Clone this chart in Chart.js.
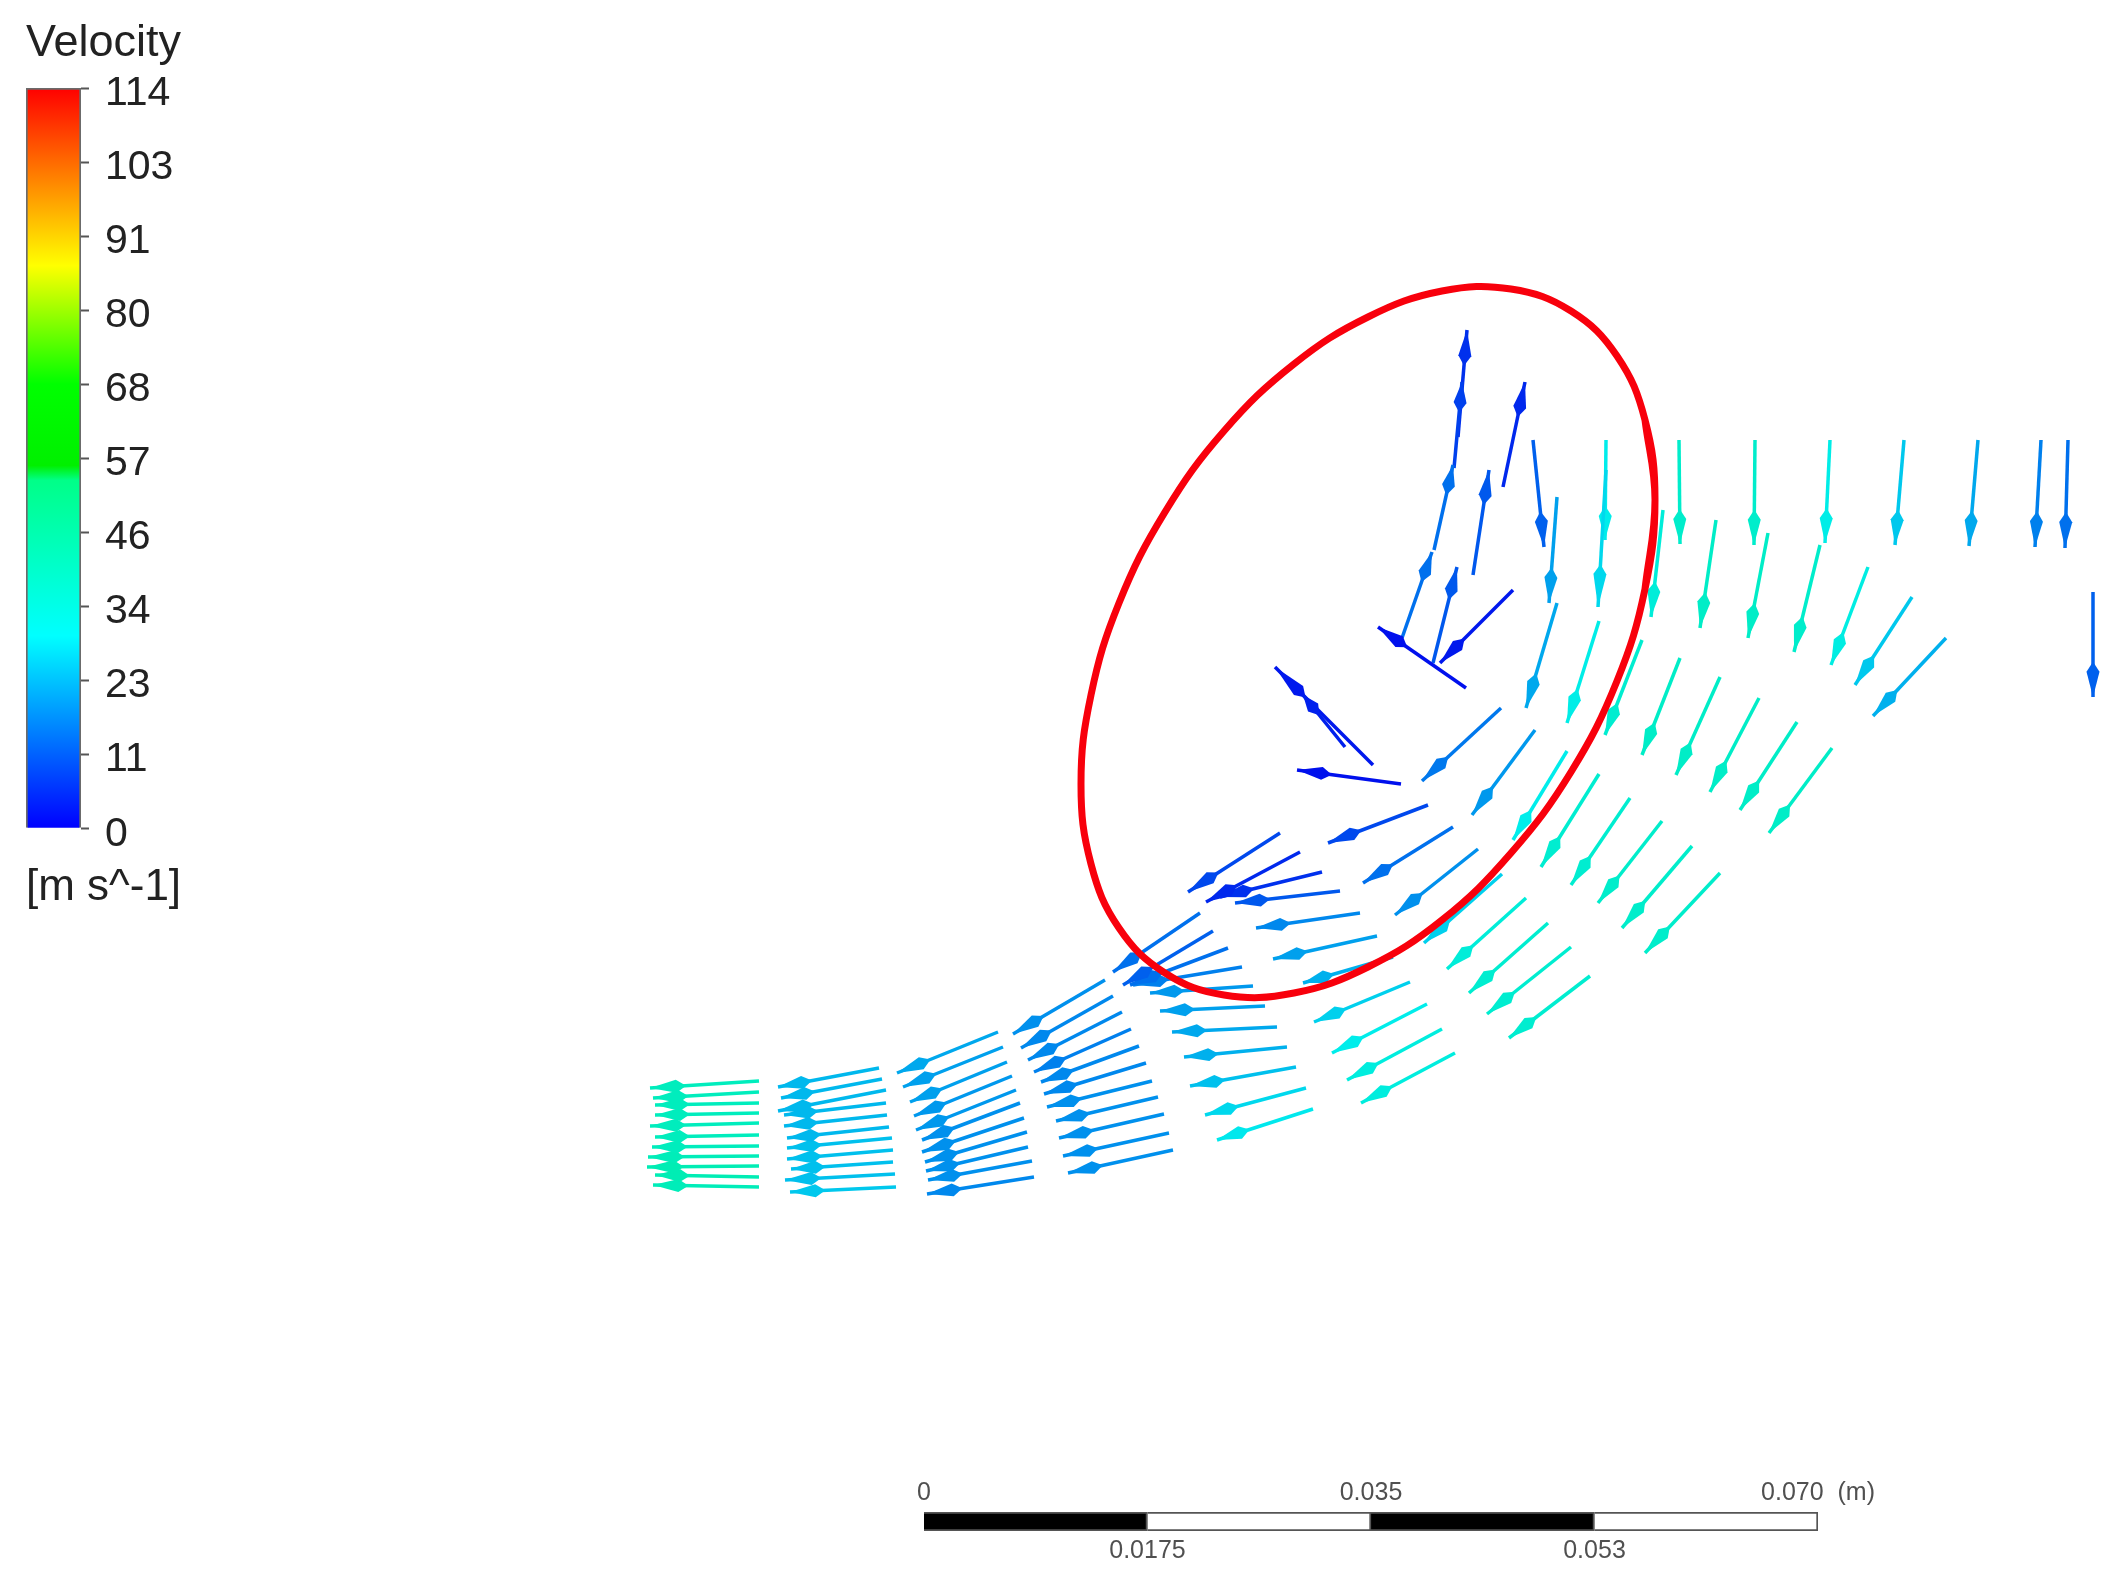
<!DOCTYPE html>
<html>
<head>
<meta charset="utf-8">
<title>Velocity vectors</title>
<script src="https://cdn.jsdelivr.net/npm/chart.js@4/dist/chart.umd.js"></script>
<style>
  html, body { margin: 0; padding: 0; background: #ffffff; }
  body { position: relative; width: 2122px; height: 1578px; overflow: hidden; }
  canvas { position: absolute; filter: blur(0.7px); }
  #vectorChart { left: 0; top: 0; }
  #legendChart { left: 0; top: 0; }
  #scaleChart { left: 824px; top: 1470px; }
</style>
</head>
<body>
<canvas id="vectorChart" width="2122" height="1578"></canvas>
<canvas id="legendChart" width="260" height="924"></canvas>
<canvas id="scaleChart" width="1100" height="108"></canvas>
<script>
// arrows are [tailX, tailY, tipX, tipY, speed]
const station1 = [
  [759, 1081, 650, 1088, 40], [759, 1092, 653, 1098, 40], [759, 1103, 655, 1105, 40], [759, 1113, 655, 1115, 40],
  [759, 1123, 650, 1126, 40], [759, 1135, 655, 1137, 40], [759, 1146, 652, 1147, 40], [759, 1156, 648, 1157, 41],
  [759, 1166, 647, 1167, 42], [759, 1177, 655, 1175, 42], [759, 1187, 653, 1185, 41]
];
const station2 = [
  [879, 1068, 778, 1087, 23], [882, 1079, 781, 1098, 23], [886, 1090, 778, 1111, 23], [886, 1103, 784, 1115, 23],
  [887, 1115, 784, 1126, 23], [889, 1127, 787, 1138, 23], [892, 1138, 787, 1148, 24], [893, 1150, 787, 1159, 24],
  [893, 1162, 791, 1169, 24], [895, 1174, 785, 1180, 24], [896, 1187, 790, 1192, 25]
];
const station3 = [
  [998, 1032, 897, 1073, 21], [1003, 1047, 903, 1087, 20], [1007, 1062, 910, 1102, 20], [1012, 1076, 914, 1116, 19],
  [1016, 1090, 916, 1130, 19], [1020, 1103, 922, 1140, 18], [1024, 1118, 922, 1152, 18], [1027, 1132, 925, 1162, 18],
  [1028, 1147, 926, 1171, 18], [1032, 1161, 928, 1180, 18], [1034, 1177, 927, 1194, 17]
];
const station4 = [
  [1105, 980, 1013, 1034, 18], [1113, 996, 1021, 1048, 17], [1122, 1012, 1028, 1060, 17], [1131, 1029, 1034, 1072, 16],
  [1139, 1046, 1041, 1082, 17], [1146, 1063, 1044, 1094, 17], [1152, 1081, 1047, 1107, 18], [1158, 1097, 1056, 1121, 18],
  [1164, 1114, 1059, 1138, 18], [1169, 1133, 1063, 1156, 18], [1173, 1150, 1068, 1173, 18]
];
const station5 = [
  [1200, 913, 1113, 972, 14], [1213, 931, 1123, 985, 12], [1228, 948, 1130, 985, 14], [1242, 967, 1133, 985, 16],
  [1253, 986, 1150, 993, 19], [1265, 1006, 1160, 1011, 20], [1277, 1027, 1172, 1032, 21], [1287, 1047, 1184, 1057, 22],
  [1296, 1067, 1190, 1086, 24], [1306, 1088, 1205, 1115, 27], [1313, 1109, 1217, 1140, 29]
];
const station6 = [
  [1280, 833, 1188, 892, 9], [1300, 852, 1206, 902, 5], [1322, 872, 1220, 897, 6], [1340, 891, 1235, 903, 11],
  [1360, 913, 1256, 928, 17], [1377, 936, 1273, 959, 20], [1393, 957, 1303, 983, 22], [1410, 982, 1314, 1022, 26],
  [1427, 1004, 1332, 1053, 30], [1442, 1029, 1347, 1080, 33], [1455, 1053, 1361, 1103, 33]
];
const station7 = [
  [1345, 747, 1303, 695, 4], [1373, 765, 1275, 667, 3], [1401, 784, 1297, 770, 2], [1428, 805, 1328, 843, 9],
  [1453, 827, 1363, 883, 14], [1478, 849, 1395, 915, 18], [1502, 874, 1424, 943, 26], [1526, 898, 1447, 969, 34],
  [1548, 923, 1469, 993, 36], [1571, 947, 1487, 1014, 36], [1590, 976, 1509, 1038, 36]
];
const station8 = [
  [1466, 688, 1378, 627, 2], [1513, 590, 1440, 663, 3], [1501, 708, 1422, 781, 15], [1535, 730, 1472, 815, 19],
  [1567, 751, 1513, 840, 30], [1599, 774, 1541, 867, 36], [1630, 798, 1571, 885, 36], [1662, 821, 1598, 903, 37],
  [1692, 846, 1622, 928, 37], [1720, 873, 1645, 953, 37]
];
const station9 = [
  [1557, 603, 1526, 708, 21], [1599, 621, 1567, 723, 31], [1642, 640, 1605, 735, 36], [1680, 658, 1642, 755, 38],
  [1720, 677, 1676, 775, 38], [1759, 698, 1710, 792, 38], [1797, 722, 1740, 810, 38], [1832, 748, 1769, 833, 38]
];
const station10 = [
  [1557, 497, 1549, 603, 20], [1606, 470, 1598, 607, 27], [1663, 510, 1651, 617, 34], [1716, 520, 1700, 628, 38],
  [1768, 533, 1748, 638, 38], [1820, 545, 1794, 652, 37], [1868, 567, 1831, 665, 32], [1912, 597, 1855, 685, 25],
  [1946, 638, 1873, 716, 22], [2093, 592, 2093, 697, 12]
];
const topRow = [
  [1606, 440, 1605, 540, 30], [1679, 440, 1680, 544, 37], [1755, 440, 1754, 545, 37], [1830, 440, 1825, 543, 31],
  [1904, 440, 1895, 545, 25], [1978, 440, 1969, 546, 21], [2041, 440, 2035, 547, 16], [2068, 440, 2065, 548, 14]
];
const recirculation = [
  [1402, 638, 1432, 552, 14], [1434, 550, 1453, 465, 14], [1454, 468, 1462, 382, 8], [1458, 437, 1467, 330, 6],
  [1433, 663, 1457, 567, 11], [1473, 575, 1489, 470, 11], [1503, 487, 1525, 382, 5], [1533, 440, 1544, 547, 12]
];

// red outline; both ends run past the join so it closes without a corner
const ringX = [1645, 1655, 1645, 1617, 1571, 1511, 1442, 1368, 1294, 1224, 1165, 1119, 1091, 1081, 1091, 1119, 1165, 1224, 1294, 1368, 1442, 1511, 1571, 1617, 1645, 1655, 1645];
const ringY = [589, 500, 420, 356, 311, 289, 291, 317, 364, 431, 512, 603, 695, 784, 864, 928, 973, 995, 993, 967, 920, 853, 772, 681, 589, 500, 420];

const velocityTicks = [0, 11.4, 22.8, 34.2, 45.6, 57, 68.4, 79.8, 91.2, 102.6, 114];
const scaleSegments = [0.0175, 0.0175, 0.0175, 0.0175];
const scaleTopTicks = [0, 0.035, 0.07];
const scaleTopLabels = ["0", "0.035", "0.070  (m)"];
const scaleBottomTicks = [0.0175, 0.0525];
const scaleBottomLabels = ["0.0175", "0.053"];

const rainbowStops = [
  [0, [0, 0, 255]],
  [0.26, [0, 255, 255]],
  [0.47, [0, 255, 136]],
  [0.49, [0, 240, 0]],
  [0.6, [0, 255, 0]],
  [0.76, [255, 255, 0]],
  [1, [255, 0, 0]]
];
const maxSpeed = 114;

Chart.defaults.font.family = "'Liberation Sans', Arial, sans-serif";
Chart.defaults.animation = false;
Chart.defaults.responsive = false;
Chart.defaults.plugins.legend.display = false;
Chart.defaults.plugins.tooltip.enabled = false;

const speedColor = (speed) => {
  const t = speed / maxSpeed;
  for (let i = 1; i < rainbowStops.length; i++) {
    const [t0, c0] = rainbowStops[i - 1];
    const [t1, c1] = rainbowStops[i];
    if (t <= t1) {
      const f = (t - t0) / (t1 - t0);
      const mix = c0.map((c, k) => Math.round((c + (c1[k] - c) * f) * 0.93));
      return `rgb(${mix.join(",")})`;
    }
  }
  return "rgb(255,0,0)";
};

const arrowHeadPlugin = {
  id: "arrowHeadPlugin",
  afterDatasetDraw(chart, args) {
    const dataset = chart.data.datasets[args.index];
    if (!dataset.isArrow) {
      return;
    }
    const { ctx, scales } = chart;
    const [tail, tip] = dataset.data;
    const x0 = scales.x.getPixelForValue(tail.x);
    const y0 = scales.y.getPixelForValue(tail.y);
    const x1 = scales.x.getPixelForValue(tip.x);
    const y1 = scales.y.getPixelForValue(tip.y);
    const len = Math.hypot(x1 - x0, y1 - y0);
    const ux = (x1 - x0) / len;
    const uy = (y1 - y0) / len;
    const back = len * 0.24;
    const half = 6.5;

    ctx.save();
    ctx.fillStyle = dataset.borderColor;
    ctx.beginPath();
    ctx.moveTo(x1, y1);
    ctx.lineTo(x1 - ux * back - uy * half, y1 - uy * back + ux * half);
    ctx.lineTo(x1 - ux * (back + 10), y1 - uy * (back + 10));
    ctx.lineTo(x1 - ux * back + uy * half, y1 - uy * back - ux * half);
    ctx.closePath();
    ctx.fill();
    ctx.restore();
  }
};

const allArrows = [
  ...station1, ...station2, ...station3, ...station4, ...station5, ...station6,
  ...station7, ...station8, ...station9, ...station10, ...topRow, ...recirculation
];

const arrowDatasets = allArrows.map(([tailX, tailY, tipX, tipY, speed]) => ({
  isArrow: true,
  data: [{ x: tailX, y: tailY }, { x: tipX, y: tipY }],
  showLine: true,
  borderColor: speedColor(speed),
  borderWidth: 3.5,
  pointRadius: 0,
  fill: false
}));

// first dataset is painted last, so the ring stays above the arrows
const ringDataset = {
  data: ringX.map((x, i) => ({ x, y: ringY[i] })),
  showLine: true,
  borderColor: "#f8000c",
  borderWidth: 7,
  pointRadius: 0,
  tension: 0.4,
  fill: false
};

new Chart(document.getElementById("vectorChart"), {
  type: "scatter",
  data: { datasets: [ringDataset, ...arrowDatasets] },
  options: {
    events: [],
    layout: { padding: 0 },
    scales: {
      x: { type: "linear", min: 0, max: 2122, display: false },
      y: { type: "linear", min: 0, max: 1578, reverse: true, display: false }
    }
  },
  plugins: [arrowHeadPlugin]
});

const barGradient = (context) => {
  const { chart } = context;
  if (!chart.chartArea) {
    return "#00ffff";
  }
  const gradient = chart.ctx.createLinearGradient(0, chart.chartArea.bottom, 0, chart.chartArea.top);
  rainbowStops.forEach(([stop, rgb]) => gradient.addColorStop(stop, `rgb(${rgb.join(",")})`));
  return gradient;
};

new Chart(document.getElementById("legendChart"), {
  type: "bar",
  data: {
    labels: ["Velocity"],
    datasets: [{
      data: [maxSpeed],
      backgroundColor: barGradient,
      borderColor: "rgba(70, 70, 70, 0.8)",
      borderWidth: 2,
      barPercentage: 1,
      categoryPercentage: 1
    }]
  },
  options: {
    events: [],
    layout: { padding: { left: 26, top: 17, bottom: 10 } },
    plugins: {
      title: {
        display: true,
        text: "Velocity",
        align: "start",
        color: "#222222",
        font: { size: 45, weight: "normal" },
        padding: { top: 0, bottom: 17 }
      },
      subtitle: {
        display: true,
        position: "bottom",
        text: "[m s^-1]",
        align: "start",
        color: "#222222",
        font: { size: 44, weight: "normal" },
        padding: { top: 33, bottom: 0 }
      }
    },
    scales: {
      x: { display: false },
      y: {
        position: "right",
        min: 0,
        max: maxSpeed,
        afterBuildTicks: (scale) => {
          scale.ticks = velocityTicks.map((value) => ({ value }));
        },
        afterFit: (scale) => {
          scale.width = 179;
        },
        border: { display: false },
        grid: { drawOnChartArea: false, tickLength: 8, tickColor: "#555555", tickWidth: 2 },
        ticks: {
          color: "#222222",
          font: { size: 41 },
          padding: 16,
          crossAlign: "near",
          labelOffset: 6,
          autoSkip: false,
          callback: (value) => Math.round(value)
        }
      }
    }
  }
});

const scaleColors = ["#000000", "#ffffff", "#000000", "#ffffff"];

const scaleAxis = (position, ticks, labels, height, padding) => ({
  type: "linear",
  axis: "x",
  position,
  min: 0,
  max: 0.07,
  stacked: true,
  afterBuildTicks: (scale) => {
    scale.ticks = ticks.map((value) => ({ value }));
  },
  afterFit: (scale) => {
    scale.height = height;
  },
  border: { display: false },
  grid: { display: false, drawTicks: false },
  ticks: {
    color: "#505050",
    font: { size: 25 },
    padding,
    autoSkip: false,
    maxRotation: 0,
    callback: (value, index) => labels[index]
  }
});

new Chart(document.getElementById("scaleChart"), {
  type: "bar",
  data: {
    labels: ["Scale"],
    datasets: scaleSegments.map((length, i) => ({
      data: [length],
      backgroundColor: scaleColors[i],
      borderColor: "#555555",
      borderWidth: 2,
      barPercentage: 1,
      categoryPercentage: 1
    }))
  },
  options: {
    indexAxis: "y",
    events: [],
    layout: { padding: { left: 100, right: 106 } },
    scales: {
      x: scaleAxis("top", scaleTopTicks, scaleTopLabels, 42, 4),
      x2: scaleAxis("bottom", scaleBottomTicks, scaleBottomLabels, 47, 5),
      y: { type: "category", stacked: true, display: false }
    }
  }
});
</script>
</body>
</html>
